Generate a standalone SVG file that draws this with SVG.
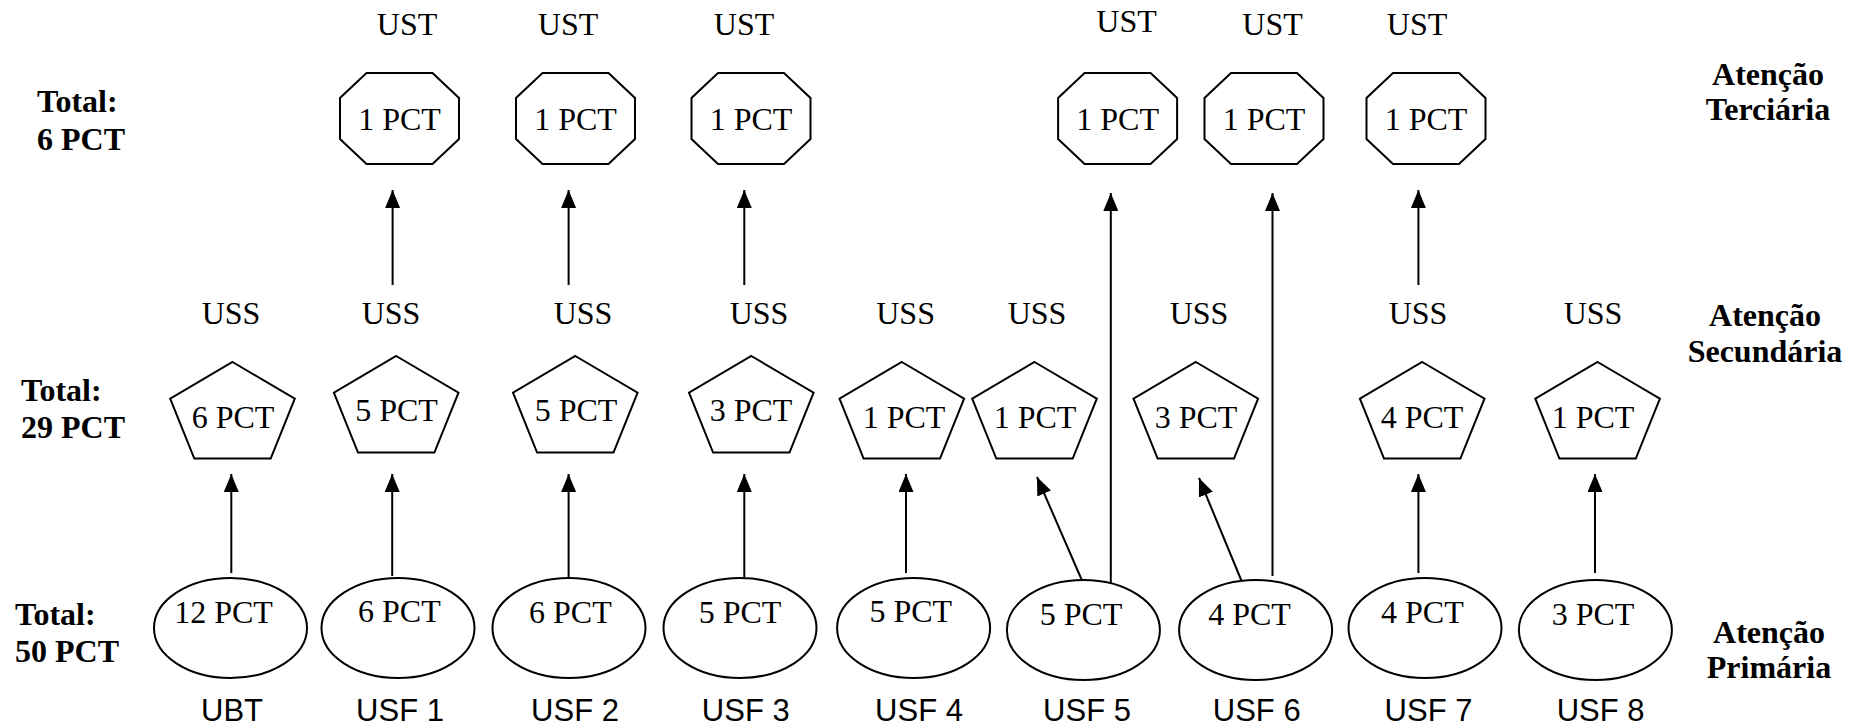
<svg xmlns="http://www.w3.org/2000/svg" width="1861" height="728" viewBox="0 0 1861 728">
  <style>
    .shape { fill: #ffffff; stroke: #000000; stroke-width: 2; }
    .edge { fill: none; stroke: #000000; stroke-width: 2; marker-end: url(#head); }
    .serif { font-family: "Liberation Serif", "Times New Roman", serif; font-size: 32px; fill: #000000; text-anchor: middle; }
    .bold { font-family: "Liberation Serif", "Times New Roman", serif; font-size: 32px; font-weight: bold; fill: #000000; }
    .mid { text-anchor: middle; }
    .sans { font-family: "Liberation Sans", Arial, sans-serif; font-size: 31px; fill: #000000; text-anchor: middle; }
  </style>
  <defs>
    <marker id="head" markerUnits="userSpaceOnUse" markerWidth="18" markerHeight="15" refX="18" refY="7.5" orient="auto">
      <path d="M0,0 L18,7.5 L0,15 Z" fill="#000000"/>
    </marker>
    <polygon id="oct" class="shape" points="-33,-45.5 33,-45.5 59.5,-20.5 59.5,20.5 33,45.5 -33,45.5 -59.5,20.5 -59.5,-20.5"/>
    <polygon id="pent" class="shape" points="0,0 62.3,36.6 38.2,96.6 -38.2,96.6 -62.3,36.6"/>
  </defs>

  <!-- level totals and level names -->
  <g id="totals">
    <text class="bold" x="37" y="112">Total:</text>
    <text class="bold" x="37" y="150">6 PCT</text>
    <text class="bold" x="21" y="401">Total:</text>
    <text class="bold" x="21" y="438">29 PCT</text>
    <text class="bold" x="15" y="625">Total:</text>
    <text class="bold" x="15" y="662">50 PCT</text>
  </g>
  <g id="levels">
    <text class="bold mid" x="1768" y="85">Atenção</text>
    <text class="bold mid" x="1768" y="120">Terciária</text>
    <text class="bold mid" x="1765" y="326">Atenção</text>
    <text class="bold mid" x="1765" y="362">Secundária</text>
    <text class="bold mid" x="1769" y="643">Atenção</text>
    <text class="bold mid" x="1769" y="678">Primária</text>
  </g>

  <!-- connectors -->
  <g id="connectors">
    <line class="edge" x1="231.3" y1="573" x2="231.3" y2="474"/>
    <line class="edge" x1="392.2" y1="576" x2="392.2" y2="474"/>
    <line class="edge" x1="568.6" y1="577" x2="568.6" y2="474"/>
    <line class="edge" x1="744.3" y1="577" x2="744.3" y2="474"/>
    <line class="edge" x1="906" y1="573" x2="906" y2="474"/>
    <line class="edge" x1="1081.8" y1="580" x2="1037" y2="477"/>
    <line class="edge" x1="1242.4" y1="583" x2="1199" y2="478"/>
    <line class="edge" x1="1418.4" y1="573" x2="1418.4" y2="474"/>
    <line class="edge" x1="1595" y1="573" x2="1595" y2="474"/>
    <line class="edge" x1="392.6" y1="285" x2="392.6" y2="190"/>
    <line class="edge" x1="568.6" y1="285" x2="568.6" y2="190"/>
    <line class="edge" x1="744.3" y1="285" x2="744.3" y2="190"/>
    <line class="edge" x1="1418.4" y1="285" x2="1418.4" y2="190"/>
    <line class="edge" x1="1110.8" y1="587" x2="1110.8" y2="193"/>
    <line class="edge" x1="1272.5" y1="576" x2="1272.5" y2="193"/>
  </g>

  <!-- tertiary care units -->
  <g id="ust1"><text class="serif" x="407" y="35">UST</text><use href="#oct" x="399.5" y="118.5"/><text class="serif" x="399.5" y="130">1 PCT</text></g>
  <g id="ust2"><text class="serif" x="568" y="35">UST</text><use href="#oct" x="575.5" y="118.5"/><text class="serif" x="575.5" y="130">1 PCT</text></g>
  <g id="ust3"><text class="serif" x="744" y="35">UST</text><use href="#oct" x="751" y="118.5"/><text class="serif" x="751" y="130">1 PCT</text></g>
  <g id="ust5"><text class="serif" x="1126.6" y="32">UST</text><use href="#oct" x="1117.6" y="118.5"/><text class="serif" x="1117.6" y="130">1 PCT</text></g>
  <g id="ust6"><text class="serif" x="1272.6" y="35">UST</text><use href="#oct" x="1264" y="118.5"/><text class="serif" x="1264" y="130">1 PCT</text></g>
  <g id="ust7"><text class="serif" x="1417" y="35">UST</text><use href="#oct" x="1426" y="118.5"/><text class="serif" x="1426" y="130">1 PCT</text></g>

  <!-- secondary care units -->
  <g id="uss0"><text class="serif" x="231" y="324">USS</text><use href="#pent" x="232.5" y="362"/><text class="serif" x="233" y="428">6 PCT</text></g>
  <g id="uss1"><text class="serif" x="391" y="324">USS</text><use href="#pent" x="396.2" y="356"/><text class="serif" x="396.5" y="421">5 PCT</text></g>
  <g id="uss2"><text class="serif" x="583" y="324">USS</text><use href="#pent" x="575.3" y="356"/><text class="serif" x="576" y="421">5 PCT</text></g>
  <g id="uss3"><text class="serif" x="759" y="324">USS</text><use href="#pent" x="751.3" y="356"/><text class="serif" x="751" y="421">3 PCT</text></g>
  <g id="uss4"><text class="serif" x="905.6" y="324">USS</text><use href="#pent" x="901.8" y="362"/><text class="serif" x="904" y="428">1 PCT</text></g>
  <g id="uss5"><text class="serif" x="1037" y="324">USS</text><use href="#pent" x="1034.5" y="362"/><text class="serif" x="1035" y="428">1 PCT</text></g>
  <g id="uss6"><text class="serif" x="1199" y="324">USS</text><use href="#pent" x="1195.8" y="362"/><text class="serif" x="1196" y="428">3 PCT</text></g>
  <g id="uss7"><text class="serif" x="1418" y="324">USS</text><use href="#pent" x="1422.2" y="362"/><text class="serif" x="1422" y="428">4 PCT</text></g>
  <g id="uss8"><text class="serif" x="1593" y="324">USS</text><use href="#pent" x="1597.6" y="362"/><text class="serif" x="1593" y="428">1 PCT</text></g>

  <!-- primary care units -->
  <g id="ubt"><ellipse class="shape" cx="230.5" cy="628" rx="76.5" ry="50"/><text class="serif" x="223.5" y="623">12 PCT</text><text class="sans" x="232" y="721">UBT</text></g>
  <g id="usf1"><ellipse class="shape" cx="398" cy="628" rx="76.5" ry="50"/><text class="serif" x="399.4" y="622">6 PCT</text><text class="sans" x="400" y="721">USF 1</text></g>
  <g id="usf2"><ellipse class="shape" cx="569" cy="628" rx="76.5" ry="50"/><text class="serif" x="570.4" y="623">6 PCT</text><text class="sans" x="575" y="721">USF 2</text></g>
  <g id="usf3"><ellipse class="shape" cx="740" cy="628" rx="76.5" ry="50"/><text class="serif" x="740" y="623">5 PCT</text><text class="sans" x="745.8" y="721">USF 3</text></g>
  <g id="usf4"><ellipse class="shape" cx="913.6" cy="628" rx="76.5" ry="50"/><text class="serif" x="910.8" y="622">5 PCT</text><text class="sans" x="919" y="721">USF 4</text></g>
  <g id="usf5"><ellipse class="shape" cx="1083.4" cy="630" rx="76.5" ry="50"/><text class="serif" x="1081" y="625">5 PCT</text><text class="sans" x="1087" y="721">USF 5</text></g>
  <g id="usf6"><ellipse class="shape" cx="1255.6" cy="630" rx="76.5" ry="50"/><text class="serif" x="1249.5" y="625">4 PCT</text><text class="sans" x="1256.7" y="721">USF 6</text></g>
  <g id="usf7"><ellipse class="shape" cx="1425" cy="628" rx="76.5" ry="50"/><text class="serif" x="1422.4" y="623">4 PCT</text><text class="sans" x="1428.5" y="721">USF 7</text></g>
  <g id="usf8"><ellipse class="shape" cx="1595.4" cy="630" rx="76.5" ry="50"/><text class="serif" x="1593" y="625">3 PCT</text><text class="sans" x="1600.6" y="721">USF 8</text></g>
</svg>
